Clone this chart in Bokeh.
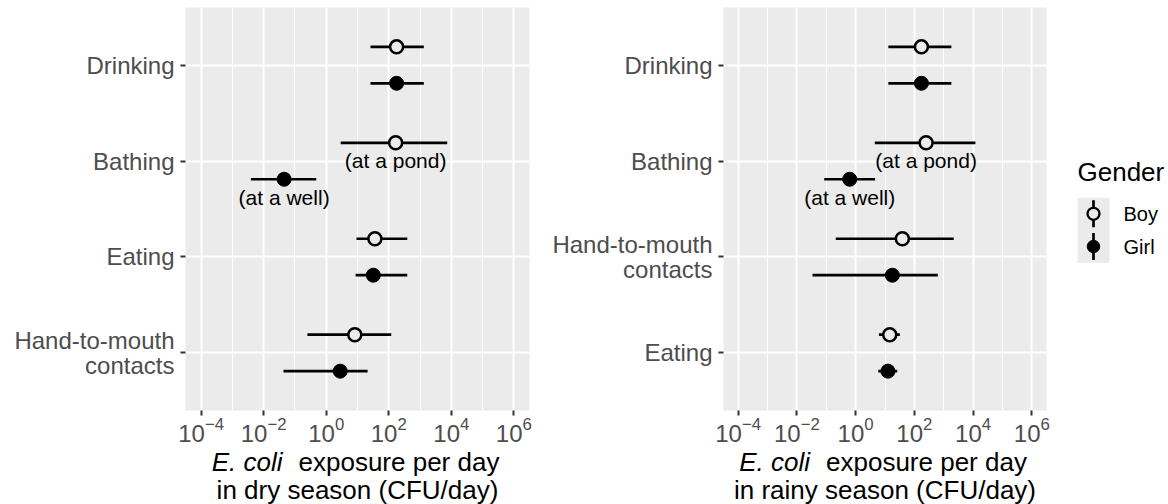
from bokeh.plotting import figure
from bokeh.models import Range1d, FixedTicker, ColumnDataSource
from bokeh.layouts import row, column
from bokeh.transform import dodge
from bokeh.embed import file_html
from bokeh.resources import INLINE
from bokeh.core.properties import value

FONT = "Liberation Sans"

# ---------------- data (CFU/day) ----------------
dry_categories = ["Drinking", "Bathing", "Eating", "Hand-to-mouth\ncontacts"]
dry_boy_mid = [178, 166, 36, 8.2]
dry_boy_lo = [26, 2.9, 9.3, 0.25]
dry_boy_hi = [1320, 7400, 390, 120]
dry_girl_mid = [178, 0.045, 32, 2.8]
dry_girl_lo = [26, 0.0039, 8.7, 0.043]
dry_girl_hi = [1320, 0.48, 390, 21]

rainy_categories = ["Drinking", "Bathing", "Hand-to-mouth\ncontacts", "Eating"]
rainy_boy_mid = [174, 251, 39, 14.5]
rainy_boy_lo = [13, 4.5, 0.21, 6.2]
rainy_boy_hi = [1820, 12000, 2190, 32]
rainy_girl_mid = [174, 0.63, 17.8, 12.6]
rainy_girl_lo = [13, 0.085, 0.034, 5.9]
rainy_girl_hi = [1820, 4.6, 630, 26]

annot_text = ["(at a pond)", "(at a well)"]
genders = ["Boy", "Girl"]
legend_title = "Gender"
x_ticks = [1e-4, 1e-2, 1, 1e2, 1e4, 1e6]
x_minor = [1e-3, 1e-1, 10, 1e3, 1e5]

# ---------------- style / layout ----------------
PANEL_BG = "#EBEBEB"
DODGE = 0.19
LABEL_DROP = 0.185
TOP_H = 447       # height of the plotting row
BOT_H = 57        # height of the strip holding the two-line axis titles
B_TOP = 7
B_BOT = 37
TITLE_Y1 = 42.3   # centre of title line 1, measured up from the strip bottom
TITLE_Y2 = 14.7


def blank(width, height, bleft, bright, xr, yr):
    t = figure(width=width, height=height, title=None, x_range=xr, y_range=yr,
               output_backend="svg", toolbar_location=None,
               x_axis_location=None, y_axis_location=None,
               min_border_left=bleft, min_border_right=bright,
               min_border_top=0, min_border_bottom=0)
    t.outline_line_color = None
    t.background_fill_color = "white"
    t.border_fill_color = "white"
    t.xgrid.visible = False
    t.ygrid.visible = False
    return t


def make_panel(cats, bm, bl, bh, gm, gl, gh, season, width, bleft, bright):
    n = len(cats)
    ypos = [float(n - i) for i in range(n)]
    p = figure(width=width, height=TOP_H, title=None, x_axis_type="log",
               x_range=Range1d(10 ** -4.5, 10 ** 6.5), y_range=Range1d(0.4, n + 0.6),
               output_backend="svg", toolbar_location=None,
               min_border_left=bleft, min_border_right=bright,
               min_border_top=B_TOP, min_border_bottom=B_BOT)
    p.background_fill_color = PANEL_BG
    p.border_fill_color = "white"
    p.outline_line_color = None

    xt = FixedTicker(ticks=x_ticks, minor_ticks=x_minor)
    p.xaxis.ticker = xt
    p.xgrid.ticker = xt
    p.xgrid.grid_line_color = "white"
    p.xgrid.grid_line_width = 2
    p.xgrid.minor_grid_line_color = "white"
    p.xgrid.minor_grid_line_width = 1

    yt = FixedTicker(ticks=ypos)
    p.yaxis.ticker = yt
    p.ygrid.ticker = yt
    p.ygrid.grid_line_color = "white"
    p.ygrid.grid_line_width = 2
    p.yaxis.major_label_overrides = {y: c for y, c in zip(ypos, cats)}

    for ax in (p.xaxis, p.yaxis):
        ax.axis_line_color = None
        ax.minor_tick_line_color = None
        ax.major_tick_in = 0
        ax.major_tick_out = 5
        ax.major_tick_line_width = 2
        ax.major_tick_line_color = "#333333"
        ax.major_label_text_font = FONT
        ax.major_label_text_color = "#4D4D4D"
    p.xaxis.major_label_text_font_size = "24px"
    p.xaxis.major_label_standoff = 1
    p.xaxis.major_label_text_line_height = 1.0
    p.yaxis.major_label_text_font_size = "24px"
    p.yaxis.major_label_standoff = 6
    p.yaxis.major_label_text_line_height = 0.95

    boy = ColumnDataSource(dict(y=ypos, mid=bm, lo=bl, hi=bh))
    girl = ColumnDataSource(dict(y=ypos, mid=gm, lo=gl, hi=gh))
    yb = dodge("y", DODGE)
    yg = dodge("y", -DODGE)
    p.segment(x0="lo", x1="hi", y0=yb, y1=yb, source=boy, line_color="black", line_width=2.7)
    p.scatter(x="mid", y=yb, source=boy, size=13, fill_color=PANEL_BG,
              line_color="black", line_width=2.5)
    p.segment(x0="lo", x1="hi", y0=yg, y1=yg, source=girl, line_color="black", line_width=2.7)
    p.scatter(x="mid", y=yg, source=girl, size=14, fill_color="black",
              line_color="black", line_width=1)

    b = cats.index("Bathing")
    ann = ColumnDataSource(dict(
        x=[bm[b], gm[b]],
        y=[ypos[b] + DODGE - LABEL_DROP, ypos[b] - DODGE - LABEL_DROP],
        text=annot_text))
    p.text(x="x", y="y", text="text", source=ann, text_font=value(FONT),
           text_font_size="21px", text_align="center", text_baseline="middle",
           text_color="black")

    # strip below with the two-line axis title (pixel coordinates of the frame width)
    fw = width - bleft - bright
    t = blank(width, BOT_H, bleft, bright, Range1d(0, fw), Range1d(0, BOT_H))
    xc = fw / 2.0
    t.text(x=[xc - 75], y=[TITLE_Y1], text=["E. coli"], text_font=value(FONT),
           text_font_style="italic", text_font_size="26px", text_align="right",
           text_baseline="middle", text_color="black")
    t.text(x=[xc - 59], y=[TITLE_Y1], text=["exposure per day"], text_font=value(FONT),
           text_font_size="26px", text_align="left", text_baseline="middle",
           text_color="black")
    t.text(x=[xc], y=[TITLE_Y2], text=[f"in {season} season (CFU/day)"], text_font=value(FONT),
           text_font_size="26px", text_align="center", text_baseline="middle",
           text_color="black")
    return column(p, t)


c1 = make_panel(dry_categories, dry_boy_mid, dry_boy_lo, dry_boy_hi,
                dry_girl_mid, dry_girl_lo, dry_girl_hi, "dry", 540, 185, 11)
c2 = make_panel(rainy_categories, rainy_boy_mid, rainy_boy_lo, rainy_boy_hi,
                rainy_girl_mid, rainy_girl_lo, rainy_girl_hi, "rainy", 520, 183, 14)

# ---------------- legend panel (pixel coordinates inside its frame) ----------------
LW = 108
FH = TOP_H - B_TOP - B_BOT
p3 = figure(width=LW, height=TOP_H, title=None, x_range=Range1d(0, LW), y_range=Range1d(0, FH),
            output_backend="svg", toolbar_location=None,
            x_axis_location=None, y_axis_location=None,
            min_border_left=0, min_border_right=0, min_border_top=B_TOP, min_border_bottom=B_BOT)
p3.outline_line_color = None
p3.background_fill_color = "white"
p3.border_fill_color = "white"
p3.xgrid.visible = False
p3.ygrid.visible = False

key_x = 33
key_y = [196.7, 164.0]
leg = ColumnDataSource(dict(x=[key_x, key_x], y=key_y, y0=[k - 13.5 for k in key_y],
                            y1=[k + 13.5 for k in key_y], label=genders,
                            fill=[PANEL_BG, "black"], lw=[2.3, 1], size=[12, 12.5]))
p3.rect(x=key_x, y=sum(key_y) / 2, width=32, height=65, fill_color=PANEL_BG, line_color=None)
p3.segment(x0="x", x1="x", y0="y0", y1="y1", source=leg, line_color="black", line_width=2.7)
p3.scatter(x="x", y="y", source=leg, size="size", fill_color="fill", line_color="black",
           line_width="lw")
p3.text(x=63, y="y", text="label", source=leg, text_font=value(FONT), text_font_size="20px",
        text_baseline="middle", text_align="left", text_color="black")
p3.text(x=[17], y=[238.3], text=[legend_title], text_font=value(FONT), text_font_size="26px",
        text_baseline="middle", text_align="left", text_color="black")
t3 = blank(LW, BOT_H, 0, 0, Range1d(0, LW), Range1d(0, BOT_H))
c3 = column(p3, t3)

layout = row(c1, c2, c3)
open("out.html", "w").write(file_html(layout, INLINE))
